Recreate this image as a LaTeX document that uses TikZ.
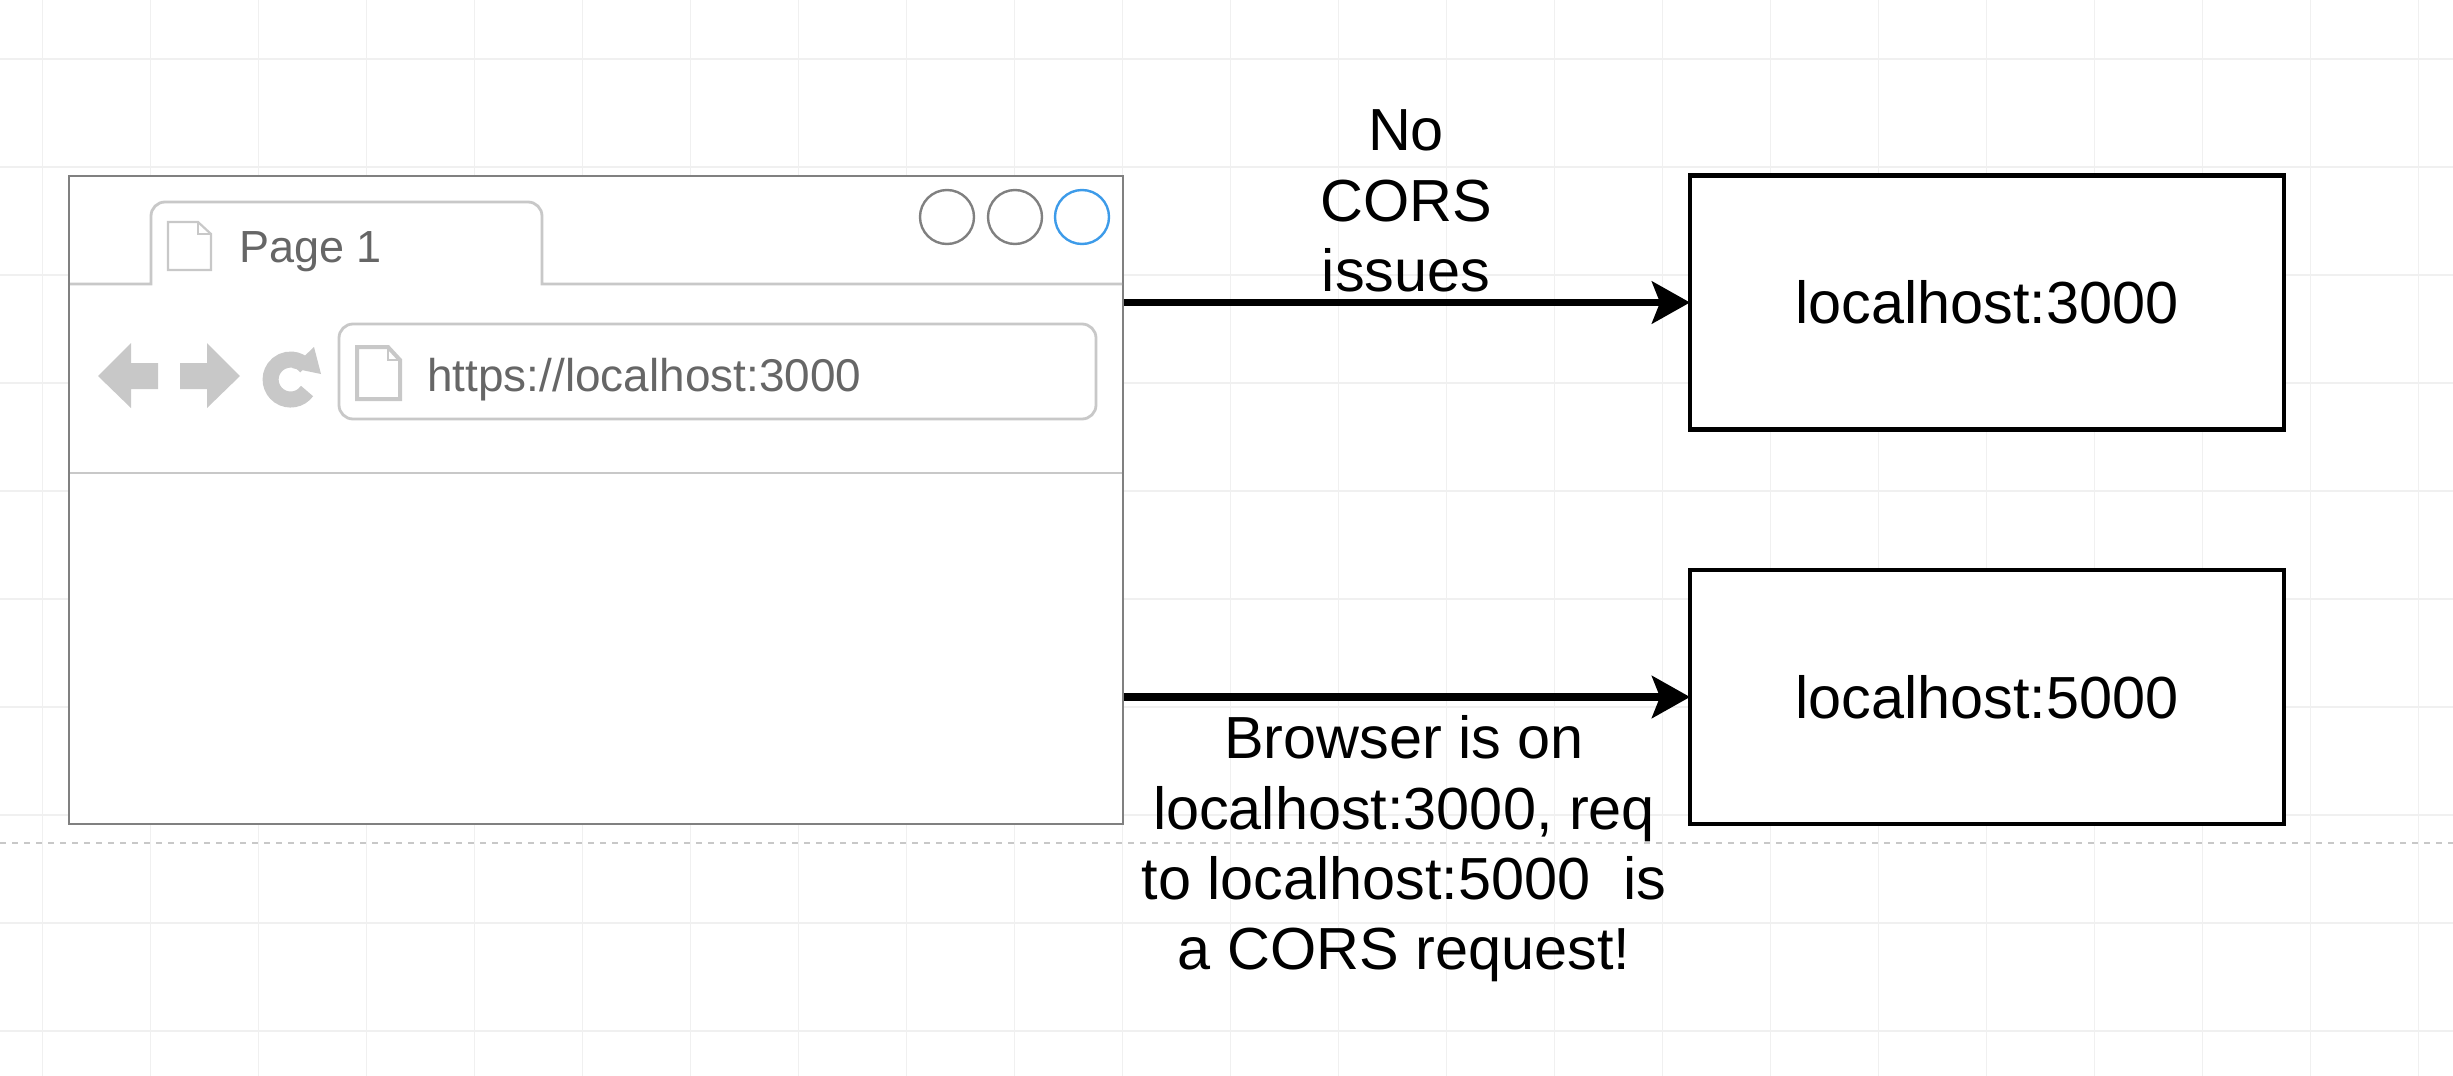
\documentclass[tikz,border=0pt]{standalone}
\usepackage{fontspec}
\setmainfont{Liberation Sans}
\usetikzlibrary{arrows.meta}
\definecolor{gridline}{HTML}{F0F0F0}
\definecolor{frameline}{HTML}{808080}
\definecolor{chromeline}{HTML}{C8C8C8}
\definecolor{chrometext}{HTML}{666666}
\definecolor{bluebutton}{HTML}{3D9BE9}
\tikzset{
    serverbox/.style={draw=black,line width=2.2pt,fill=white,minimum width=297,minimum height=127,inner sep=0pt,outer sep=0pt,font=\fontsize{29.7}{35}\selectfont},
    flow/.style={line width=3.6pt,-{Stealth[length=19pt,width=21pt,inset=4pt]}},
    note/.style={align=center,font=\fontsize{29.7}{35.2}\selectfont},
    chrometab/.style={text=chrometext,inner sep=0pt,anchor=base west},
    button/.style={draw=#1,line width=1.2pt,circle,minimum size=27pt,inner sep=0pt},
    docicon/.style={draw=chromeline,fill=white},
    chromerule/.style={chromeline,line width=1.4pt}
}
\begin{document}
\begin{tikzpicture}[x=0.5pt,y=-0.5pt]
    \useasboundingbox (0,0) rectangle (2453,1076);
    \fill[white] (0,0) rectangle (2453,1076);

    % grid behind everything
    \foreach \gx in {42,150,...,2453} {
        \draw[gridline,line width=0.5pt] (\gx,0) -- (\gx,1076);
    }
    \foreach \gy in {59,167,...,1076} {
        \draw[gridline,line width=0.8pt] (0,\gy) -- (2453,\gy);
    }
    \draw[chromeline,line width=1pt,dash pattern=on 3pt off 3pt] (0,843) -- (2453,843);

    % browser window
    \node[draw=frameline,line width=1.2pt,fill=white,minimum width=527pt,minimum height=324pt,inner sep=0pt] (browser) at (596,500) {};
    \draw[chromerule] (70,284) -- (151,284) -- (151,216) arc (180:270:14) -- (528,202) arc (270:360:14) -- (542,284) -- (1122,284);
    \draw[chromerule] (70,473) -- (1122,473);
    \node[button=frameline] (minbutton) at (947,217) {};
    \node[button=frameline] (maxbutton) at (1015,217) {};
    \node[button=bluebutton] (closebutton) at (1082,217) {};

    % tab
    \draw[docicon,line width=1.1pt] (168,222) -- (198,222) -- (211,234) -- (211,270) -- (168,270) -- cycle;
    \draw[chromeline,line width=0.7pt] (198,222) -- (198,234) -- (211,234);
    \node[chrometab,font=\fontsize{22.5}{26}\selectfont] (tabname) at (239,262) {Page 1};

    % navigation
    \fill[chromeline] (98,376) -- (131,343) -- (131,363) -- (158,363) -- (158,389) -- (131,389) -- (131,408) -- cycle;
    \fill[chromeline] (240,376) -- (207,343) -- (207,363) -- (180,363) -- (180,389) -- (207,389) -- (207,408) -- cycle;
    \draw[chromeline,line width=8pt] (307,391) arc (35:320:20);
    \fill[chromeline] (314,347) -- (321,374) -- (292,368) -- cycle;
    \draw[chromerule,rounded corners=7pt,fill=white] (339,324) rectangle (1096,419);
    \draw[docicon,line width=2pt] (357,347) -- (388,347) -- (400,360) -- (400,399) -- (357,399) -- cycle;
    \draw[chromeline,line width=0.7pt] (388,347) -- (388,360) -- (400,360);
    \node[chrometab,font=\fontsize{22.95}{28}\selectfont] (urltext) at (427,391) {https://localhost:3000};

    % servers
    \node[serverbox] (server3000) at (1987,302.5) {localhost:3000};
    \node[serverbox] (server5000) at (1987,697) {localhost:5000};

    \draw[flow] (browser.east |- server3000.west) -- (server3000.west);
    \draw[flow] (browser.east |- server5000.west) -- (server5000.west);

    % labels
    \node[note] (nocors) at (1406,201) {No\\CORS\\issues};
    \node[note] (corsreq) at (1404,849) {Browser is on\\localhost:3000, req\\to localhost:5000~~is\\a CORS request!};
\end{tikzpicture}
\end{document}
